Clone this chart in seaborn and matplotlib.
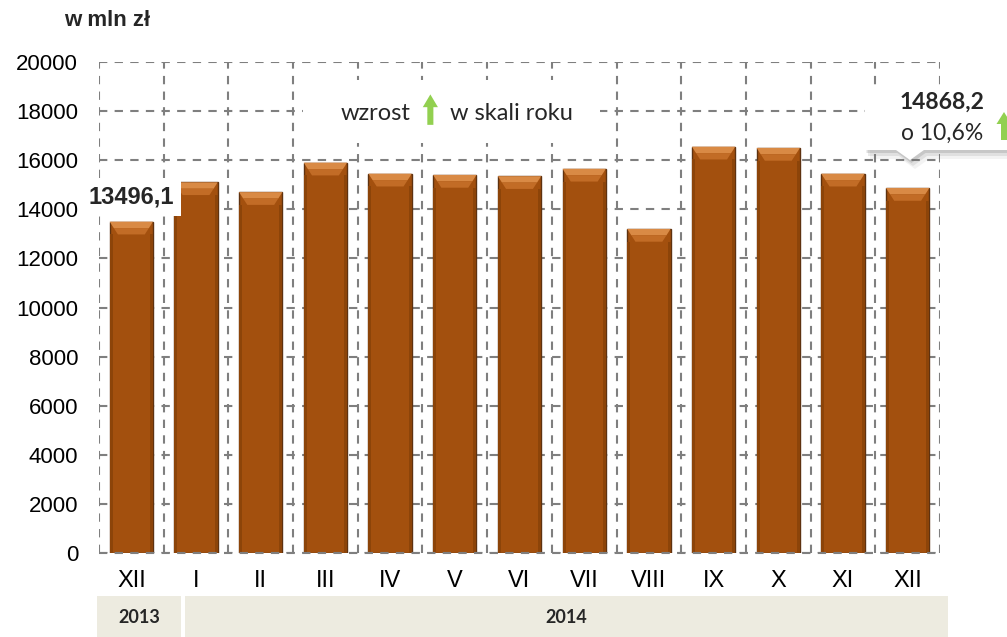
import numpy as np
import pandas as pd
import matplotlib
matplotlib.use('Agg')
import matplotlib.pyplot as plt
from matplotlib.patches import Rectangle, Polygon, FancyArrow
import seaborn as sns

# ── Dane ───────────────────────────────────────────────────────────────────
miesiace = ['XII', 'I', 'II', 'III', 'IV', 'V', 'VI', 'VII', 'VIII', 'IX', 'X', 'XI', 'XII']
lata = [2013] + [2014] * 12
wartosci = [13496.1, 15100, 14700, 15900, 15450, 15400, 15350, 15650,
            13200, 16550, 16500, 15450, 14868.2]
wzrost_rr = 10.6
y_ticks = np.arange(0, 20001, 2000)

df = pd.DataFrame({'okres': [f'{m} {r}' for m, r in zip(miesiace, lata)],
                   'wartosc': wartosci})

# ── Styl ───────────────────────────────────────────────────────────────────
BAR = '#A3500E'
EDGE = '#5E3210'
BEVEL_TOP = '#D98A45'
BEVEL_LOW = '#C26C26'
SIDE = '#8C4409'
GRID = '#7F7F7F'
BAND = '#EDEBE0'
GREEN = '#92D050'
DASH = (0, (4, 3.5))

sns.set_style('white')
plt.rcParams['font.family'] = ['Liberation Sans', 'DejaVu Sans']

W, H = 1007, 637
fig = plt.figure(figsize=(W / 100, H / 100), dpi=100)
ax = fig.add_axes([99 / W, 1 - 553 / H, 841 / W, 491 / H])


def fxy(px, py):
    # piksele -> współrzędne figury
    return px / W, 1 - py / H


sns.barplot(data=df, x='okres', y='wartosc', color=BAR, saturation=1,
            width=0.67, edgecolor=EDGE, linewidth=1.0, ax=ax, zorder=2)

# efekt 3D: fazowanie górnej krawędzi i ciemniejsze boki
for p in list(ax.patches):
    x0, w, h = p.get_x(), p.get_width(), p.get_height()
    d, dh, s = 0.19 * w, 520, 0.07 * w
    ax.add_patch(Rectangle((x0, 0), s, h - dh, facecolor=SIDE, edgecolor='none', zorder=3))
    ax.add_patch(Rectangle((x0 + w - s, 0), s, h - dh, facecolor=SIDE, edgecolor='none', zorder=3))
    ax.add_patch(Polygon([(x0, h), (x0 + w, h), (x0 + w - d / 2, h - dh / 2), (x0 + d / 2, h - dh / 2)],
                         closed=True, facecolor=BEVEL_TOP, edgecolor='none', zorder=3))
    ax.add_patch(Polygon([(x0 + d / 2, h - dh / 2), (x0 + w - d / 2, h - dh / 2),
                          (x0 + w - d, h - dh), (x0 + d, h - dh)],
                         closed=True, facecolor=BEVEL_LOW, edgecolor='none', zorder=3))

ax.set_xlim(-0.5, len(df) - 0.5)
ax.set_ylim(0, 20000)
ax.set_yticks(y_ticks)
ax.set_xticks(range(len(df)))
ax.set_xticklabels(miesiace)
ax.set_xticks(np.arange(-0.5, len(df)), minor=True)
ax.set_xlabel('')
ax.set_ylabel('')
for s in ax.spines.values():
    s.set_visible(False)

ax.set_axisbelow(True)
ax.grid(axis='y', which='major', color=GRID, linestyle=DASH, linewidth=1.5)
ax.grid(axis='x', which='minor', color=GRID, linestyle=DASH, linewidth=1.5)
ax.grid(axis='x', which='major', visible=False)
ax.axhline(0, color=GRID, linestyle=DASH, linewidth=1.5, zorder=4, clip_on=False)

ax.tick_params(axis='y', direction='inout', length=10, width=1.2, color=GRID,
               pad=10, labelsize=16, labelcolor='black')
ax.tick_params(axis='x', which='major', length=0, pad=12, labelsize=17, labelcolor='black')
ax.tick_params(axis='x', which='minor', direction='inout', length=10, width=1.2, color=GRID)

# etykieta pierwszego słupka
ax.annotate(f'{wartosci[0]:.1f}'.replace('.', ','), xy=(0, wartosci[0]),
            xytext=(0, 17.5), textcoords='offset points', ha='center', va='center',
            fontsize=17, fontweight='bold', zorder=6,
            bbox=dict(boxstyle='square,pad=0.3', facecolor='white', edgecolor='none'))

# legenda "wzrost ↑ w skali roku"
ax.add_patch(Rectangle((0.2426, 0.835), 0.353, 0.128, transform=ax.transAxes,
                       facecolor='white', edgecolor='none', zorder=5))
ax.text(0.3698, 0.896, 'wzrost', transform=ax.transAxes, ha='right', va='center',
        fontsize=17, family=['Lato', 'DejaVu Sans'], zorder=6)
ax.text(0.4174, 0.896, 'w skali roku', transform=ax.transAxes, ha='left', va='center',
        fontsize=17, family=['Lato', 'DejaVu Sans'], zorder=6)
ax.add_patch(FancyArrow(0.394, 0.872, 0, 0.062, width=0.0072, head_width=0.018,
                        head_length=0.026, length_includes_head=True,
                        transform=ax.transAxes, facecolor=GREEN, edgecolor='none', zorder=6))

# pasek z latami
ax.add_patch(Rectangle((-0.0024, -0.171), 0.0999, 0.0834, transform=ax.transAxes,
                       facecolor=BAND, edgecolor='none', clip_on=False))
ax.add_patch(Rectangle((0.1023, -0.171), 0.9072, 0.0834, transform=ax.transAxes,
                       facecolor=BAND, edgecolor='none', clip_on=False))
ax.text(0.0475, -0.1305, str(lata[0]), transform=ax.transAxes, ha='center', va='center',
        fontsize=13, fontweight='bold', family=['Lato', 'DejaVu Sans'])
ax.text(0.556, -0.1305, str(lata[-1]), transform=ax.transAxes, ha='center', va='center',
        fontsize=13, fontweight='bold', family=['Lato', 'DejaVu Sans'])

# jednostka
fig.text(*fxy(64, 21), 'w mln zł', ha='left', va='center', fontsize=16, fontweight='bold')

# dymek z ostatnią wartością
dymek = [(865, 85), (1012, 85), (1012, 150), (924, 150), (910, 160), (896, 150), (865, 150)]
for (dx, dy, a) in [(5, 9, 0.08), (3, 6, 0.14), (1.5, 3, 0.22)]:
    fig.add_artist(Polygon([fxy(px + dx, py + dy) for px, py in dymek], closed=True,
                           transform=fig.transFigure, facecolor='#6F6F6F', alpha=a,
                           edgecolor='none', zorder=2))
fig.add_artist(Polygon([fxy(px, py) for px, py in dymek], closed=True,
                       transform=fig.transFigure, facecolor='white', edgecolor='none', zorder=3))
fig.text(*fxy(942, 102), f'{wartosci[-1]:.1f}'.replace('.', ','), ha='center', va='center',
         fontsize=16.5, fontweight='bold', family=['Lato', 'DejaVu Sans'], zorder=4)
fig.text(*fxy(942, 133), f'o {wzrost_rr:.1f}%'.replace('.', ','), ha='center', va='center',
         fontsize=16.5, family=['Lato', 'DejaVu Sans'], zorder=4)
x0, y0 = fxy(1004, 140)
fig.add_artist(FancyArrow(x0, y0, 0, 28 / H, width=6 / W, head_width=15 / W,
                          head_length=12 / H, length_includes_head=True,
                          transform=fig.transFigure, facecolor=GREEN, edgecolor='none', zorder=4))

fig.savefig('out.png', dpi=100)
